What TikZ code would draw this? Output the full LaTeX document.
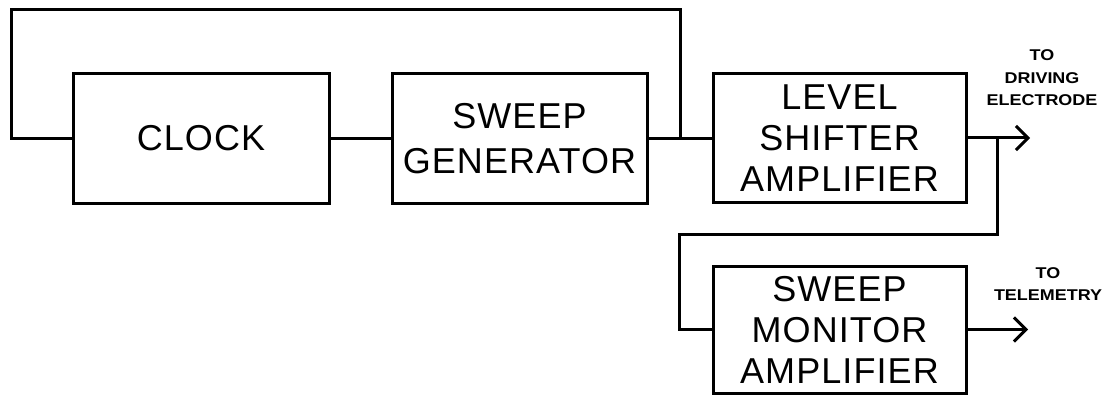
\documentclass[tikz,border=0pt]{standalone}
\usepackage{fontspec}
\newfontfamily\plotfont[LetterSpace=3]{Liberation Sans}
\newfontfamily\lblfont[FakeStretch=1.15]{Liberation Sans}
\usetikzlibrary{arrows.meta}
\begin{document}
\begin{tikzpicture}[x=0.5pt,y=-0.5pt,line width=1.5pt,
  blk/.style={draw,inner sep=0pt,align=center,font=\plotfont\fontsize{18}{20.5}\selectfont},
  lbl/.style={align=center,inner sep=0pt,font=\lblfont\bfseries\fontsize{7.8}{11.25}\selectfont},
  outarrow/.style={-{Straight Barb[length=6pt,width=12pt,line width=1.5pt]}}]
\useasboundingbox (0,0) rectangle (1111,395);
\node[blk,minimum width=128pt,minimum height=64.5pt] (clk) at (201,138.5) {CLOCK};
\node[blk,minimum width=127.5pt,minimum height=64.5pt,font=\plotfont\fontsize{18}{22.5}\selectfont] (sg) at (519.5,138.5) {SWEEP\\GENERATOR};
\node[blk,minimum width=126.5pt,minimum height=64pt] (ls) at (839.5,138) {LEVEL\\SHIFTER\\AMPLIFIER};
\node[blk,minimum width=126.5pt,minimum height=63.5pt] (sm) at (839.5,329.5) {SWEEP\\MONITOR\\AMPLIFIER};
\node[lbl] (l1) at (1042,78) {TO\\DRIVING\\ELECTRODE};
\node[lbl] (l2) at (1048,284) {TO\\TELEMETRY};
\coordinate (j1) at (680,138.5);
\coordinate (fbl) at (11,10);
\coordinate (br) at (997,138);
\coordinate (bl) at (679,234);
\coordinate (lsout) at (1030,138);
\coordinate (smout) at (1028,329.5);
\draw (clk.east) -- (sg.west);
\draw (sg.east) -- (sg.east -| ls.west);
\draw (j1) |- (fbl) |- (clk.west);
\draw[outarrow] (ls.east) -- (lsout);
\draw (br) |- (bl) |- (sm.west);
\draw[outarrow] (sm.east) -- (smout);
\end{tikzpicture}
\end{document}
